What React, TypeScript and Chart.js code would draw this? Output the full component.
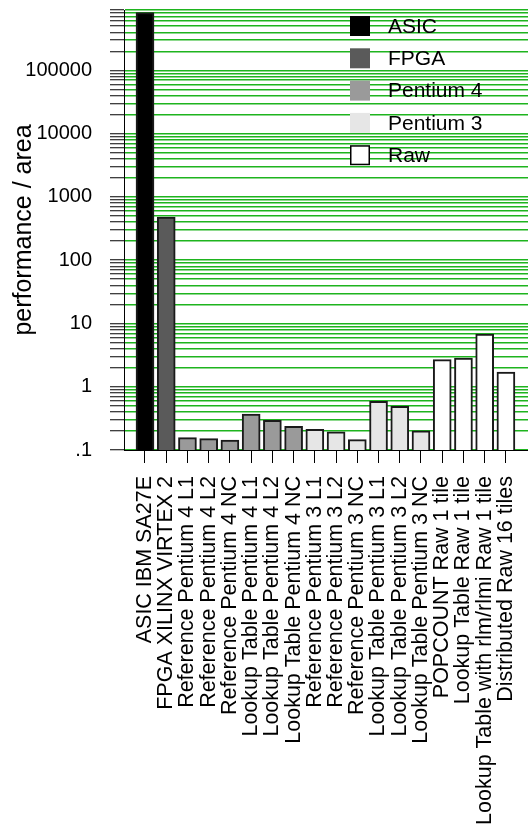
import { useEffect, useRef } from 'react';
import { Chart, registerables } from 'chart.js';

Chart.register(...registerables);

const categories = [
  'ASIC IBM SA27E',
  'FPGA XILINX VIRTEX 2',
  'Reference Pentium 4 L1',
  'Reference Pentium 4 L2',
  'Reference Pentium 4 NC',
  'Lookup Table Pentium 4 L1',
  'Lookup Table Pentium 4 L2',
  'Lookup Table Pentium 4 NC',
  'Reference Pentium 3 L1',
  'Reference Pentium 3 L2',
  'Reference Pentium 3 NC',
  'Lookup Table Pentium 3 L1',
  'Lookup Table Pentium 3 L2',
  'Lookup Table Pentium 3 NC',
  'POPCOUNT Raw 1 tile',
  'Lookup Table Raw 1 tile',
  'Lookup Table with rlm/rlmi Raw 1 tile',
  'Distributed Raw 16 tiles',
];

const values = [
  820000, 480, 0.157, 0.151, 0.144, 0.371, 0.295, 0.237, 0.212, 0.193, 0.146,
  0.589, 0.491, 0.2, 2.68, 2.83, 6.77, 1.7,
];

const categoryGroup = [0, 1, 2, 2, 2, 2, 2, 2, 3, 3, 3, 3, 3, 3, 4, 4, 4, 4];

const groups = ['ASIC', 'FPGA', 'Pentium 4', 'Pentium 3', 'Raw'];
const groupColors = ['#000000', '#5a5a5a', '#9a9a9a', '#e6e6e6', '#ffffff'];

const yMajorTicks = [0.1, 1, 10, 100, 1000, 10000, 100000];
const yMajorLabels = ['.1', '1', '10', '100', '1000', '10000', '100000'];
const yMin = 0.1;
const yMax = 900000;

const FONT = '"Liberation Sans", Arial, Helvetica, sans-serif';

function buildLogTicks() {
  const out: { value: number }[] = [];
  for (let e = -1; e <= 5; e++) {
    for (let m = 1; m <= 9; m++) {
      const v = parseFloat((m * Math.pow(10, e)).toPrecision(6));
      if (v >= yMin && v <= yMax) out.push({ value: v });
    }
  }
  return out;
}

const insideLegend = {
  id: 'insideLegend',
  afterDraw(chart: any) {
    const { ctx, chartArea } = chart;
    const bx = chartArea.right - 178;
    const top = chartArea.top + 16;
    ctx.save();
    ctx.font = `21px ${FONT}`;
    ctx.textBaseline = 'middle';
    ctx.textAlign = 'left';
    groups.forEach((g, i) => {
      const cy = top + i * 32.3;
      ctx.fillStyle = groupColors[i];
      ctx.fillRect(bx, cy - 10, 20, 20);
      if (groupColors[i] === '#ffffff') {
        ctx.strokeStyle = '#000';
        ctx.lineWidth = 1.5;
        ctx.strokeRect(bx + 0.75, cy - 9.25, 18.5, 18.5);
      }
      ctx.fillStyle = '#000';
      ctx.fillText(g, bx + 38, cy + 1);
    });
    ctx.restore();
  },
};

export default function App() {
  const ref = useRef<HTMLCanvasElement | null>(null);

  useEffect(() => {
    if (!ref.current) return;
    const datasets = groups.map((g, gi) => ({
      label: g,
      data: categories
        .map((_, i) => ({ x: i, y: values[i] }))
        .filter((_, i) => categoryGroup[i] === gi),
      backgroundColor: groupColors[gi],
      borderColor: '#1a1a1a',
      borderWidth: 2,
      barThickness: 18,
      grouped: false,
    }));

    const chart = new Chart(ref.current, {
      type: 'bar',
      data: { datasets },
      options: {
        responsive: true,
        maintainAspectRatio: false,
        animation: false,
        layout: { padding: { top: 10, left: 0, right: 0, bottom: 0 } },
        plugins: { legend: { display: false }, tooltip: { enabled: false } },
        scales: {
          x: {
            type: 'linear',
            min: -0.989,
            max: 18.04,
            offset: false,
            afterBuildTicks: (s: any) => {
              s.ticks = categories.map((_, i) => ({ value: i }));
            },
            afterFit: (s: any) => {
              s.height = 376;
              s.paddingLeft = 0;
              s.paddingRight = 0;
            },
            grid: {
              offset: false,
              drawOnChartArea: false,
              drawTicks: true,
              tickLength: 13,
              tickColor: '#000',
              tickWidth: 1,
            },
            border: { color: '#000', width: 1 },
            ticks: {
              autoSkip: false,
              minRotation: 90,
              maxRotation: 90,
              padding: 13,
              color: '#000',
              font: { family: FONT, size: 21.5 },
              callback: (v: any) => categories[v] ?? '',
            },
          },
          y: {
            type: 'logarithmic',
            min: yMin,
            max: yMax,
            afterBuildTicks: (s: any) => {
              s.ticks = buildLogTicks();
            },
            afterFit: (s: any) => {
              s.width = 124;
              s.paddingTop = 0;
              s.paddingBottom = 0;
            },
            grid: {
              color: 'rgb(30,180,30)',
              lineWidth: 1.5,
              tickColor: '#000',
              tickLength: 14,
              tickWidth: 1,
            },
            border: { color: '#000', width: 1 },
            ticks: {
              autoSkip: false,
              padding: 18,
              color: '#000',
              font: { family: FONT, size: 20 },
              callback: (v: any) => {
                const idx = yMajorTicks.findIndex((t) => Math.abs(v - t) / t < 1e-6);
                return idx >= 0 ? yMajorLabels[idx] : '';
              },
            },
            title: {
              display: true,
              text: 'performance / area',
              color: '#000',
              font: { family: FONT, size: 25 },
              padding: { top: 9, bottom: 0 },
            },
          },
        },
      } as any,
      plugins: [insideLegend],
    });
    return () => chart.destroy();
  }, []);

  return (
    <div style={{ position: 'fixed', left: 0, top: 0, width: 528, height: 826, background: '#fff' }}>
      <canvas ref={ref} />
    </div>
  );
}
